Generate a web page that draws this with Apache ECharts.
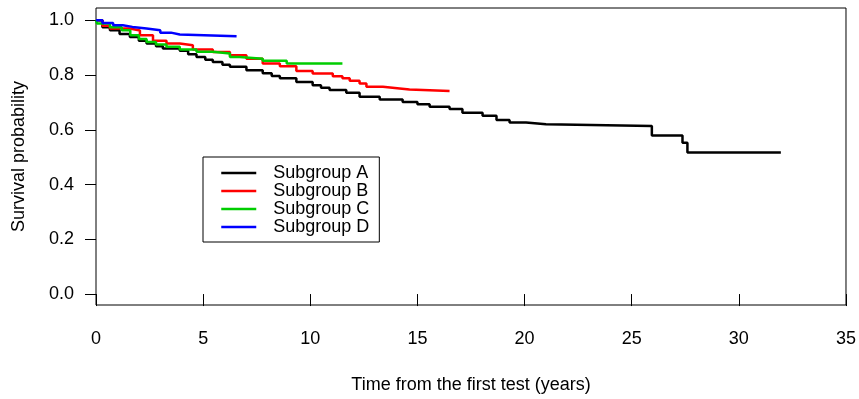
<!DOCTYPE html>
<html>
<head>
<meta charset="utf-8">
<script src="https://cdn.jsdelivr.net/npm/echarts@6/dist/echarts.min.js"></script>
<style>
html,body{margin:0;padding:0;background:#fff;}
#chart{width:859px;height:399px;}
</style>
</head>
<body>
<div id="chart"></div>
<script>
// Subgroup A (black)
var timeA = [0, 0.3, 0.65, 1.1, 1.58, 2.0, 2.36, 2.8, 3.12, 3.91, 4.3, 4.69, 5.1, 5.45, 5.9, 6.25, 7.02, 7.78, 8.2, 8.58, 9.35, 10.11, 10.5, 10.9, 11.68, 12.3, 13.24, 14.31, 15.0, 15.57, 16.5, 17.1, 18.04, 18.69, 19.3, 20.07, 21.0, 25.94, 27.37, 27.6, 31.96];
var survA = [1.0, 0.975, 0.964, 0.950, 0.939, 0.925, 0.915, 0.905, 0.897, 0.889, 0.876, 0.866, 0.856, 0.848, 0.838, 0.830, 0.818, 0.807, 0.797, 0.788, 0.775, 0.763, 0.754, 0.745, 0.735, 0.721, 0.711, 0.702, 0.693, 0.684, 0.676, 0.662, 0.651, 0.636, 0.627, 0.620, 0.614, 0.579, 0.553, 0.517, 0.517];
// Subgroup B (red)
var timeB = [0, 0.3, 0.65, 1.58, 2.05, 2.66, 3.29, 3.91, 4.52, 5.45, 6.25, 7.02, 7.78, 8.58, 9.35, 10.11, 11.05, 11.5, 11.84, 12.3, 12.62, 13.39, 14.17, 14.63, 16.5];
var survB = [1.0, 0.98, 0.970, 0.963, 0.945, 0.925, 0.915, 0.909, 0.893, 0.884, 0.872, 0.860, 0.842, 0.832, 0.815, 0.806, 0.796, 0.788, 0.779, 0.769, 0.757, 0.751, 0.747, 0.742, 0.742];
// Subgroup C (green)
var timeC = [0, 0.05, 0.65, 1.2, 1.6, 2.0, 2.36, 2.8, 3.29, 3.91, 4.69, 5.45, 6.25, 6.7, 7.78, 8.9, 11.5];
var survC = [1.0, 0.988, 0.975, 0.964, 0.945, 0.932, 0.921, 0.912, 0.903, 0.893, 0.885, 0.879, 0.866, 0.860, 0.852, 0.842, 0.842];
// Subgroup D (blue)
var timeD = [0, 0.3, 0.8, 1.25, 1.7, 2.36, 3.0, 3.5, 3.91, 6.56];
var survD = [1.0, 0.990, 0.982, 0.976, 0.970, 0.964, 0.955, 0.948, 0.942, 0.942];

var groupNames = ['Subgroup A', 'Subgroup B', 'Subgroup C', 'Subgroup D'];
var groupColors = ['#000000', '#FF0000', '#00CD00', '#0000FF'];
var yTicks = [0, 0.2, 0.4, 0.6, 0.8, 1.0];

function zip(t, s) { return t.map(function (v, i) { return [v, s[i]]; }); }
var groups = [zip(timeA, survA), zip(timeB, survB), zip(timeC, survC), zip(timeD, survD)];

var FONT = 'Liberation Sans, Arial, sans-serif';
var chart = echarts.init(document.getElementById('chart'), null, {renderer: 'canvas'});
chart.setOption({
  animation: false,
  backgroundColor: '#ffffff',
  grid: {left: 96, right: 12, top: 8, bottom: 94, show: true, borderColor: '#000', borderWidth: 1, backgroundColor: 'transparent'},
  xAxis: {
    type: 'value', min: 0, max: 35, interval: 5,
    name: 'Time from the first test (years)', nameLocation: 'middle', nameGap: 71,
    nameTextStyle: {fontSize: 18, color: '#000', fontFamily: FONT},
    axisLine: {show: false},
    axisTick: {show: true, length: 12, inside: false, lineStyle: {color: '#000', width: 1}},
    axisLabel: {margin: 25, fontSize: 18, color: '#000', fontFamily: FONT},
    splitLine: {show: false}
  },
  yAxis: {
    type: 'value', min: -0.04, max: 1.045,
    name: 'Survival probability', nameLocation: 'middle', nameGap: 68,
    nameTextStyle: {fontSize: 18, color: '#000', fontFamily: FONT},
    axisLine: {show: false},
    axisTick: {show: true, length: 11, inside: false, customValues: yTicks, lineStyle: {color: '#000', width: 1}},
    axisLabel: {margin: 22, fontSize: 18, color: '#000', fontFamily: FONT, customValues: yTicks,
      formatter: function (v) { return Number(v).toFixed(1); }},
    splitLine: {show: false}
  },
  legend: {
    orient: 'vertical', left: 203, top: 157,
    padding: [7, 10, 6, 17],
    borderColor: '#000', borderWidth: 1, backgroundColor: '#fff',
    itemWidth: 35, itemHeight: 14, itemGap: 0,
    selectedMode: false,
    itemStyle: {opacity: 0},
    lineStyle: {width: 2.5},
    textStyle: {fontSize: 18, lineHeight: 17, color: '#000', fontFamily: FONT, padding: [0, 0, 0, 12]},
    data: groupNames
  },
  series: groups.map(function (d, i) {
    return {
      name: groupNames[i], type: 'line', step: 'end', data: d,
      symbol: 'none', showSymbol: false,
      lineStyle: {color: groupColors[i], width: 2.5},
      itemStyle: {color: groupColors[i]},
      z: 2 + i
    };
  })
});
</script>
</body>
</html>
